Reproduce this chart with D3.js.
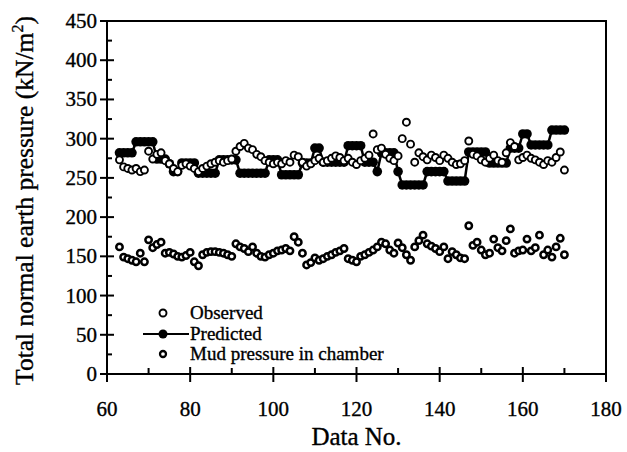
<!DOCTYPE html>
<html>
<head>
<meta charset="utf-8">
<script src="https://cdn.jsdelivr.net/npm/d3@7"></script>
<style>
  body { margin: 0; background: #fff; }
  text { font-family: "Liberation Serif", "Times New Roman", serif; fill: #000; stroke: #000; stroke-width: 0.35px; }
</style>
</head>
<body>
<div id="main"></div>
<script>
// data numbers 63..170
var firstNo = 63;

var observed = [
    273, 264, 262, 260, 262, 258, 260, 284, 274, 280, 282, 272, 268, 262, 258,
    266, 268, 265, 262, 258, 262, 265, 268, 270, 272, 270, 272, 274, 284, 290,
    294, 288, 286, 280, 277, 272, 270, 268, 270, 268, 272, 270, 279, 277, 270,
    265, 268, 272, 275, 270, 272, 275, 278, 276, 272, 275, 270, 267, 272, 275,
    279, 306, 286, 288, 280, 275, 272, 278, 300, 321, 293, 270, 282, 277, 273,
    279, 276, 272, 279, 275, 270, 267, 268, 272, 297, 280, 278, 273, 270, 275,
    279, 272, 270, 282, 295, 290, 273, 276, 279, 275, 273, 270, 267, 272, 270,
    276, 283, 260
];

var predicted = [
    282, 282, 282, 282, 296, 296, 296, 296, 296, 274, 274, 274, 268, 258, 258,
    269, 269, 269, 269, 256, 256, 256, 256, 256, 273, 273, 273, 273, 273, 256,
    256, 256, 256, 256, 256, 256, 273, 273, 273, 254, 254, 254, 254, 254, 269,
    269, 269, 288, 288, 270, 270, 270, 270, 270, 270, 291, 291, 291, 291, 270,
    270, 270, 258, 282, 282, 282, 282, 258, 241, 241, 241, 241, 241, 241, 258,
    258, 258, 258, 258, 246, 246, 246, 246, 246, 283, 283, 283, 283, 283, 269,
    269, 269, 269, 269, 288, 288, 288, 306, 306, 292, 292, 292, 292, 292, 311,
    311, 311, 311
];

var mud = [
    162, 149, 147, 145, 143, 154, 143, 171, 161, 165, 168, 154, 155, 153, 150,
    149, 151, 155, 143, 138, 152, 155, 156, 156, 155, 154, 152, 150, 166, 162,
    160, 156, 162, 154, 150, 149, 152, 154, 157, 158, 160, 157, 175, 168, 154,
    139, 142, 148, 145, 147, 150, 152, 155, 157, 160, 147, 145, 143, 150, 152,
    155, 158, 162, 168, 166, 158, 154, 167, 161, 152, 145, 162, 170, 177, 166,
    163, 160, 156, 162, 147, 156, 152, 148, 147, 189, 164, 168, 158, 152, 154,
    172, 161, 157, 170, 185, 154, 157, 158, 172, 157, 161, 177, 152, 158, 149,
    162, 173, 152
];

var xTicks = [60, 80, 100, 120, 140, 160, 180];
var yTicks = [0, 50, 100, 150, 200, 250, 300, 350, 400, 450];
var legendLabels = ["Observed", "Predicted", "Mud pressure in chamber"];

var W = 627, H = 452;
var margin = { left: 107, right: 21, top: 21, bottom: 78 };

var svg = d3.select("#main").append("svg")
    .attr("width", W)
    .attr("height", H);

var x = d3.scaleLinear().domain([60, 180]).range([margin.left, W - margin.right]);
var y = d3.scaleLinear().domain([0, 450]).range([H - margin.bottom, margin.top]);

function toPoints(arr) {
    return arr.map(function (v, i) { return { n: firstNo + i, v: v }; });
}

var g = svg.append("g");

// frame
g.append("rect")
    .attr("x", x(60)).attr("y", y(450))
    .attr("width", x(180) - x(60)).attr("height", y(0) - y(450))
    .attr("fill", "none").attr("stroke", "#000").attr("stroke-width", 2);

// x ticks
var xMinor = d3.range(70, 180, 20);
g.selectAll(".xmaj").data(xTicks).enter().append("line")
    .attr("x1", function (d) { return x(d); }).attr("x2", function (d) { return x(d); })
    .attr("y1", y(0) - 7).attr("y2", y(0) + 8)
    .attr("stroke", "#000").attr("stroke-width", 2);
g.selectAll(".xmin").data(xMinor).enter().append("line")
    .attr("x1", function (d) { return x(d); }).attr("x2", function (d) { return x(d); })
    .attr("y1", y(0) - 6).attr("y2", y(0))
    .attr("stroke", "#000").attr("stroke-width", 2);
g.selectAll(".xlab").data(xTicks).enter().append("text")
    .attr("x", function (d) { return x(d); })
    .attr("y", y(0) + 42)
    .attr("text-anchor", "middle")
    .style("font-size", "21px")
    .text(function (d) { return d; });

// y ticks
var yMinor = d3.range(25, 450, 50);
g.selectAll(".ymaj").data(yTicks).enter().append("line")
    .attr("x1", x(60) - 7).attr("x2", x(60) + 7)
    .attr("y1", function (d) { return y(d); }).attr("y2", function (d) { return y(d); })
    .attr("stroke", "#000").attr("stroke-width", 2);
g.selectAll(".ymin").data(yMinor).enter().append("line")
    .attr("x1", x(60)).attr("x2", x(60) + 5)
    .attr("y1", function (d) { return y(d); }).attr("y2", function (d) { return y(d); })
    .attr("stroke", "#000").attr("stroke-width", 2);
g.selectAll(".ylab").data(yTicks).enter().append("text")
    .attr("x", x(60) - 10)
    .attr("y", function (d) { return y(d) + 7; })
    .attr("text-anchor", "end")
    .style("font-size", "21px")
    .text(function (d) { return d; });

// axis titles
svg.append("text")
    .attr("x", (x(60) + x(180)) / 2)
    .attr("y", 445)
    .attr("text-anchor", "middle")
    .style("font-size", "25px")
    .text("Data No.");

var yt = svg.append("text")
    .attr("transform", "translate(33," + ((y(0) + y(450)) / 2 + 3) + ") rotate(-90)")
    .attr("text-anchor", "middle")
    .style("font-size", "25.5px");
yt.append("tspan").text("Total normal earth pressure (kN/m");
yt.append("tspan").attr("dy", -10).style("font-size", "16px").text("2");
yt.append("tspan").attr("dy", 10).text(")");

// mud pressure
g.selectAll(".mud").data(toPoints(mud)).enter().append("circle")
    .attr("cx", function (d) { return x(d.n); })
    .attr("cy", function (d) { return y(d.v); })
    .attr("r", 3.2)
    .attr("fill", "#fff").attr("stroke", "#000").attr("stroke-width", 2.5);

// predicted
var line = d3.line()
    .x(function (d) { return x(d.n); })
    .y(function (d) { return y(d.v); });
g.append("path").datum(toPoints(predicted))
    .attr("d", line)
    .attr("fill", "none").attr("stroke", "#000").attr("stroke-width", 2.5);
g.selectAll(".pred").data(toPoints(predicted)).enter().append("circle")
    .attr("cx", function (d) { return x(d.n); })
    .attr("cy", function (d) { return y(d.v); })
    .attr("r", 4.8)
    .attr("fill", "#000");

// observed
g.selectAll(".obs").data(toPoints(observed)).enter().append("circle")
    .attr("cx", function (d) { return x(d.n); })
    .attr("cy", function (d) { return y(d.v); })
    .attr("r", 3.5)
    .attr("fill", "#fff").attr("stroke", "#000").attr("stroke-width", 1.9);

// legend
var lg = svg.append("g").attr("transform", "translate(163,0)");
lg.append("circle").attr("cx", 0).attr("cy", 313).attr("r", 3.5)
    .attr("fill", "#fff").attr("stroke", "#000").attr("stroke-width", 1.9);
lg.append("line").attr("x1", -20).attr("x2", 26).attr("y1", 334).attr("y2", 334)
    .attr("stroke", "#000").attr("stroke-width", 2);
lg.append("circle").attr("cx", 0).attr("cy", 334).attr("r", 4.5).attr("fill", "#000");
lg.append("circle").attr("cx", 0).attr("cy", 354).attr("r", 3)
    .attr("fill", "#fff").attr("stroke", "#000").attr("stroke-width", 2.3);
lg.selectAll(".lt").data(legendLabels).enter().append("text")
    .attr("x", 27)
    .attr("y", function (d, i) { return 319 + i * 20.5; })
    .style("font-size", "19px")
    .text(function (d) { return d; });
</script>
</body>
</html>
